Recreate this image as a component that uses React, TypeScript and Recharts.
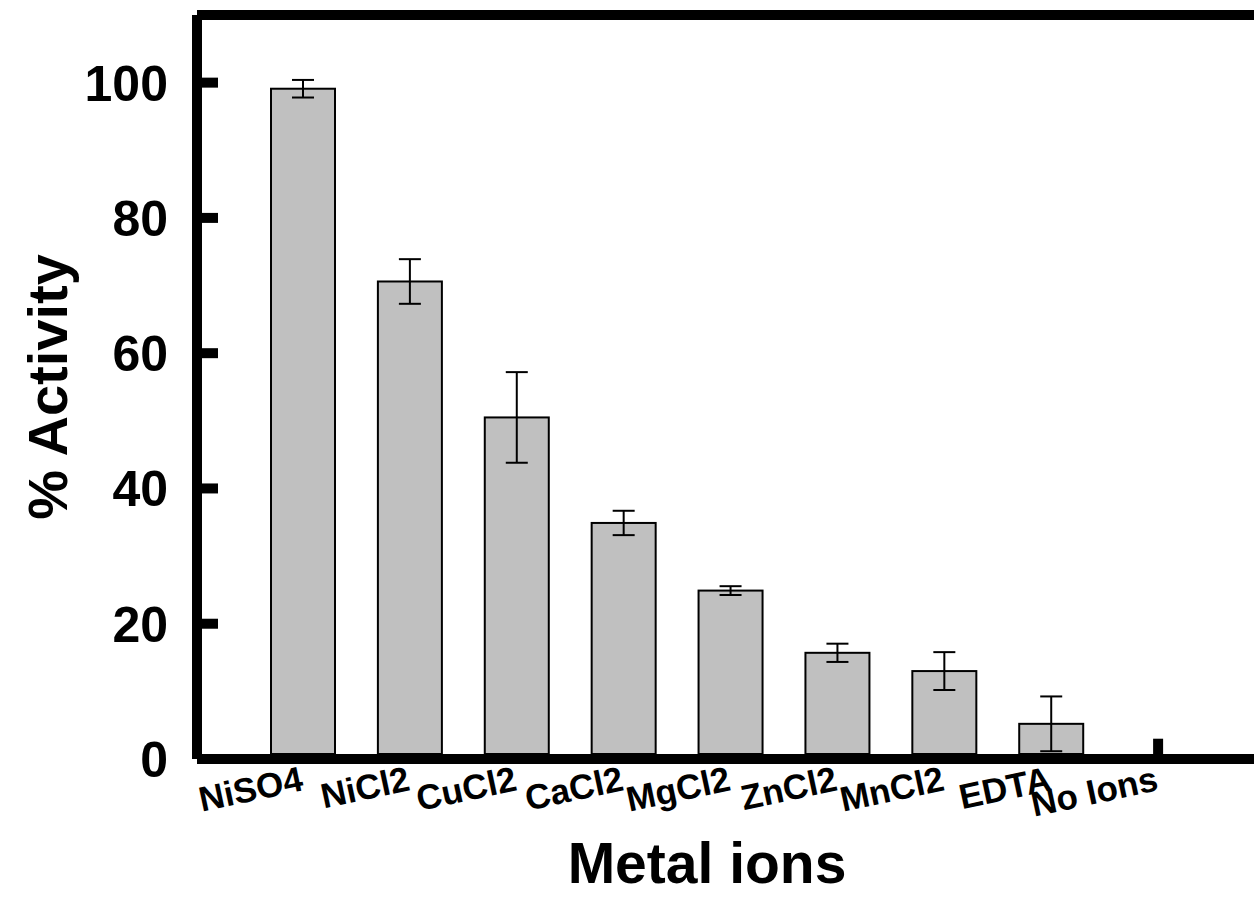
import { BarChart, Bar, XAxis, YAxis, ErrorBar, ReferenceLine, Label } from "recharts";

const categories = ["NiSO4", "NiCl2", "CuCl2", "CaCl2", "MgCl2", "ZnCl2", "MnCl2", "EDTA", "No Ions"];
const activity = [99.1, 70.6, 50.5, 34.9, 24.9, 15.7, 13.0, 5.2, 3.0];
const errors = [1.3, 3.3, 6.7, 1.8, 0.65, 1.35, 2.8, 4.05, null];
const yTicks = [0, 20, 40, 60, 80, 100];

const chartData = categories.map((name, i) => ({
  name,
  value: activity[i],
  err: errors[i],
}));

const FONT = "'Liberation Sans', Arial, Helvetica, sans-serif";

function YTick({ x, y, payload }: any) {
  return (
    <g>
      <line x1={x} x2={x + 21} y1={y} y2={y} stroke="#000" strokeWidth={10} />
      <text
        x={x - 29}
        y={y}
        dy={18}
        textAnchor="end"
        fontSize={50}
        fontWeight="bold"
        fontFamily={FONT}
        fill="#000"
      >
        {payload.value}
      </text>
    </g>
  );
}

function XTick({ x, y, payload }: any) {
  return (
    <text
      transform={`translate(${x + 1},${y + 31}) rotate(-12)`}
      textAnchor="end"
      fontSize={35}
      fontWeight="bold"
      fontFamily={FONT}
      fill="#000"
    >
      {payload.value}
    </text>
  );
}

// last category is drawn as a small black marker, the rest as grey boxes
function BarShape(props: any) {
  const { x, y, width, height, payload } = props;
  if (payload.name === "No Ions") {
    const cx = x + width / 2;
    return <rect x={cx - 5} y={y} width={10} height={height} fill="#000" />;
  }
  return (
    <rect
      x={x}
      y={y}
      width={width}
      height={Math.max(height - 5, 0)}
      fill="#c0c0c0"
      stroke="#000"
      strokeWidth={2}
    />
  );
}

export default function App() {
  return (
    <div
      style={{
        position: "absolute",
        left: 0,
        top: 0,
        width: 1254,
        height: 897,
        overflow: "hidden",
        background: "#fff",
      }}
    >
      <BarChart
        width={1302}
        height={897}
        data={chartData}
        margin={{ top: 15, right: 0, bottom: 0, left: 0 }}
        barSize={64}
      >
        <XAxis
          dataKey="name"
          height={138}
          padding={{ left: 53, right: 90 }}
          axisLine={{ stroke: "#000", strokeWidth: 10 }}
          tickLine={false}
          tickSize={0}
          tickMargin={0}
          interval={0}
          tick={<XTick />}
        >
          <Label
            content={({ viewBox }: any) => (
              <text
                x={viewBox.x + 510}
                y={viewBox.y + 124}
                textAnchor="middle"
                fontSize={57}
                fontWeight="bold"
                fontFamily={FONT}
                fill="#000"
              >
                Metal ions
              </text>
            )}
          />
        </XAxis>
        <YAxis
          width={197}
          domain={[0, 110]}
          ticks={yTicks}
          axisLine={{ stroke: "#000", strokeWidth: 10 }}
          tickLine={false}
          tickSize={0}
          tickMargin={0}
          tick={<YTick />}
        >
          <Label
            content={({ viewBox }: any) => (
              <text
                transform={`translate(${viewBox.x + 67},${viewBox.y + viewBox.height / 2}) rotate(-90)`}
                textAnchor="middle"
                fontSize={56}
                fontWeight="bold"
                fontFamily={FONT}
                fill="#000"
              >
                % Activity
              </text>
            )}
          />
        </YAxis>
        <ReferenceLine y={110} stroke="#000" strokeWidth={10} />
        <Bar dataKey="value" shape={<BarShape />} isAnimationActive={false}>
          <ErrorBar dataKey="err" width={11} stroke="#000" strokeWidth={2} isAnimationActive={false} />
        </Bar>
      </BarChart>
    </div>
  );
}
